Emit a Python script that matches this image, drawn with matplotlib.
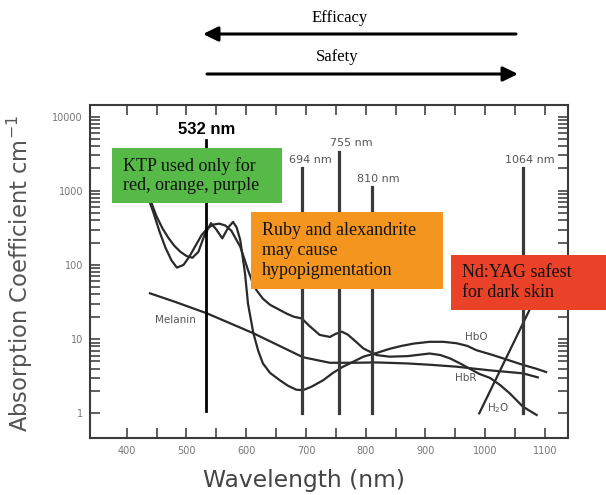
import numpy as np
import matplotlib
matplotlib.use('Agg')
import matplotlib.pyplot as plt
from matplotlib.patches import Rectangle

# absorption spectra (nm, 1/cm)
hbo_nm = [436, 450, 460, 470, 480, 490, 500, 510, 520, 530, 541, 550, 560, 570, 578, 584,
          590, 598, 603, 612, 620, 628, 640, 656, 670, 684, 695, 710, 729, 745, 762, 780,
          796, 818, 840, 860, 880, 907, 930, 952, 970, 985, 1010, 1030, 1063, 1085, 1102]
hbo_val = [900, 450, 310, 230, 180, 150, 132, 125, 150, 250, 365, 300, 228, 320, 380, 320,
           217, 77, 30, 12, 7.0, 4.7, 3.5, 2.8, 2.35, 2.08, 2.05, 2.3, 2.8, 3.5, 4.25, 5.0,
           5.8, 6.5, 7.4, 8.1, 8.7, 9.2, 9.2, 8.8, 8.1, 7.1, 6.2, 5.5, 4.5, 4.0, 3.6]

hbr_nm = [434, 445, 455, 465, 475, 484, 495, 505, 515, 525, 535, 545, 555, 565, 575, 582,
          590, 597, 603, 610, 617, 628, 640, 655, 668, 680, 693, 706, 723, 740, 750, 760,
          770, 780, 796, 818, 840, 870, 907, 925, 941, 958, 974, 990, 1008, 1025, 1041,
          1063, 1086]
hbr_val = [900, 500, 280, 170, 115, 92, 100, 130, 180, 250, 310, 350, 360, 340, 290, 230,
           176, 120, 85, 60, 46, 35, 29, 25, 22, 20, 19, 15, 11.4, 10.7, 11.8, 12.6,
           11.5, 9.8, 7.5, 6.1, 5.8, 5.9, 6.4, 6.1, 5.5, 4.7, 4.0, 3.4, 3.0, 2.4, 1.86,
           1.23, 0.95]

mel_nm = [439, 480, 534, 612, 660, 695, 740, 780, 818, 870, 910, 952, 1007, 1063, 1088]
mel_val = [41.4, 32, 22.3, 12, 7.8, 5.7, 4.8, 4.8, 4.85, 4.7, 4.5, 4.25, 3.8, 3.46, 3.05]

h2o_nm = [990, 1092]
h2o_val = [1.0, 49]

# laser lines
laser_nm = [532, 694, 755, 810, 1064]
laser_top = [4800, 2020, 3320, 1120, 2020]
laser_bottom = [1.08, 1.0, 1.0, 1.0, 1.0]
laser_labels = ['532 nm', '694 nm', '755 nm', '810 nm', '1064 nm']
label_nm = [534, 707, 776, 821, 1074]
label_val = [6600, 2580, 4350, 1425, 2580]

W, H = 606, 495
fig = plt.figure(figsize=(W / 100, H / 100), dpi=100)
ax = fig.add_axes([90 / W, 1 - 438 / H, (568 - 90) / W, (438 - 105) / H])


def px(x, y):
    return x / W, 1 - y / H


line_col = '#2a2a2a'
ax.plot(hbo_nm, hbo_val, color=line_col, lw=1.6)
ax.plot(hbr_nm, hbr_val, color=line_col, lw=1.6)
ax.plot(mel_nm, mel_val, color=line_col, lw=1.6)
ax.plot(h2o_nm, h2o_val, color=line_col, lw=1.6)

for i, nm in enumerate(laser_nm):
    c = 'black' if i == 0 else '#3a3a3a'
    ax.plot([nm, nm], [laser_bottom[i], laser_top[i]], color=c, lw=2.0 if i == 0 else 2.3)
    if i == 0:
        ax.text(label_nm[i], label_val[i], laser_labels[i], ha='center', va='center',
                fontsize=12, fontweight='bold', family='Liberation Sans', color='black')
    else:
        ax.text(label_nm[i], label_val[i], laser_labels[i], ha='center', va='center',
                fontsize=8, color='#555555')

ax.text(481, 18, 'Melanin', ha='center', va='center', fontsize=7.5, color='#555555')
ax.text(985, 10.8, 'HbO', ha='center', va='center', fontsize=7.5, color='#555555')
ax.text(968, 3.0, 'HbR', ha='center', va='center', fontsize=7.5, color='#555555')
ax.text(1021, 1.17, 'H$_2$O', ha='center', va='center', fontsize=7.5, color='#555555')

ax.set_yscale('log')
ax.set_xlim(338.6, 1138.5)
ax.set_ylim(0.465, 14300)
ax.set_xticks(range(400, 1101, 100))
ax.set_xticks(range(450, 1100, 100), minor=True)
ax.set_yticks([1, 10, 100, 1000, 10000])
ax.set_yticklabels(['1', '10', '100', '1000', '10000'])
ax.set_yticks([m * 10 ** e for e in range(0, 4) for m in range(2, 10)], minor=True)
ax.yaxis.set_minor_formatter(matplotlib.ticker.NullFormatter())
ax.tick_params(which='both', direction='in', length=7, width=1.2, color='#444444',
               top=True, right=True, labelsize=7, labelcolor='#777777')
ax.tick_params(axis='x', pad=6)
ax.tick_params(axis='y', pad=5)
for s in ax.spines.values():
    s.set_color('#3a3a3a')
    s.set_linewidth(1.5)

fig.text(*px(20, 273), 'Absorption Coefficient cm$^{-1}$', rotation=90, ha='center',
         va='center', fontsize=16.3, color='#555555')
fig.text(*px(304, 480), 'Wavelength (nm)', ha='center', va='center', fontsize=16.8,
         color='#444444')

# coloured notes
boxes = [
    ((112, 148), (282, 203), '#57B947', 123, 'KTP used only for\nred, orange, purple'),
    ((251, 212), (443, 289), '#F4951F', 262, 'Ruby and alexandrite\nmay cause\nhypopigmentation'),
    ((451, 255), (606, 310), '#EA4129', 462, 'Nd:YAG safest\nfor dark skin'),
]
for (x0, y0), (x1, y1), col, tx, txt in boxes:
    fig.patches.append(Rectangle(px(x0, y1), (x1 - x0) / W, (y1 - y0) / H,
                                 transform=fig.transFigure, facecolor=col,
                                 edgecolor='none', zorder=5))
    fig.text(*px(tx, (y0 + y1) / 2), txt, ha='left', va='center', fontsize=13,
             family='Liberation Serif', color='#111111', zorder=6, linespacing=1.2)

# efficacy / safety arrows
arrow = dict(arrowstyle='-|>,head_length=0.45,head_width=0.22', lw=2.2, color='black',
             mutation_scale=20, shrinkA=0, shrinkB=0)
ax.annotate('', xy=px(203, 34), xytext=px(516, 34), xycoords='figure fraction',
            textcoords='figure fraction', arrowprops=arrow, annotation_clip=False)
ax.annotate('', xy=px(518, 74), xytext=px(207, 74), xycoords='figure fraction',
            textcoords='figure fraction', arrowprops=arrow, annotation_clip=False)
fig.text(*px(340, 18), 'Efficacy', ha='center', va='center', fontsize=12,
         family='Liberation Serif')
fig.text(*px(337, 57), 'Safety', ha='center', va='center', fontsize=12,
         family='Liberation Serif')

fig.savefig('out.png', dpi=100)
